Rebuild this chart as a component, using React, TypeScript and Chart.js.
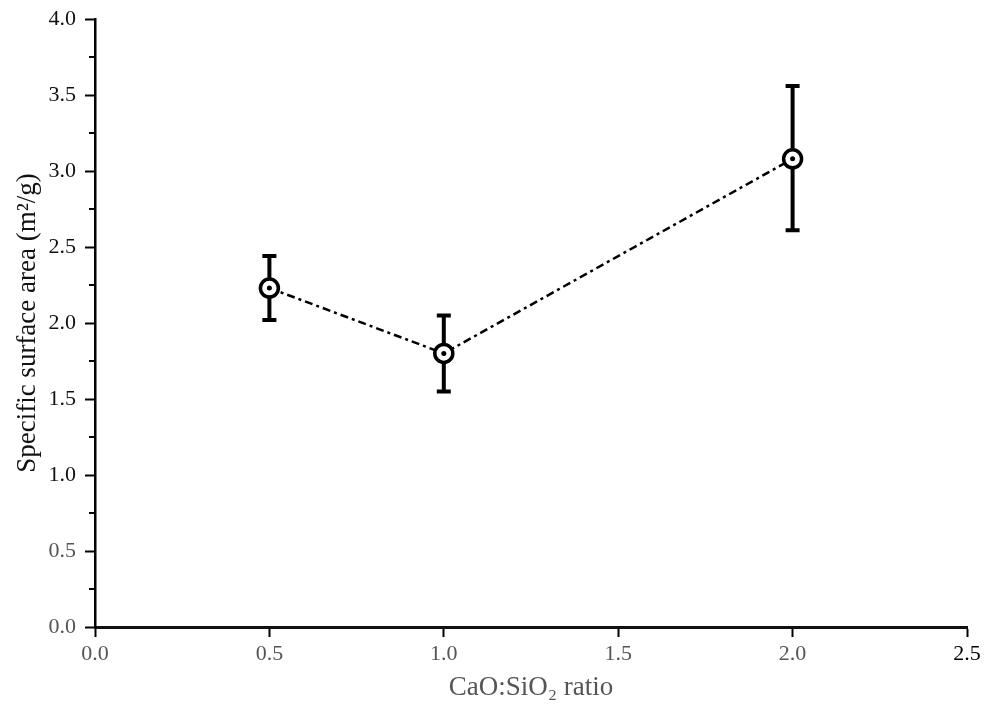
import React, { useEffect, useRef } from 'react';
import { Chart, registerables } from 'chart.js';
Chart.register(...registerables);

const xValues = [0.5, 1.0, 2.0];
const yValues = [2.23, 1.8, 3.08];
const yErrLow = [2.02, 1.55, 2.61];
const yErrHigh = [2.44, 2.05, 3.56];
const xTicks = [0, 0.5, 1.0, 1.5, 2.0, 2.5];
const yTicks = [0, 0.5, 1.0, 1.5, 2.0, 2.5, 3.0, 3.5, 4.0];
const yMinorTicks = [0.25, 0.75, 1.25, 1.75, 2.25, 2.75, 3.25, 3.75];
const xTitle = 'CaO:SiO\u2082 ratio';
const yTitle = 'Specific surface area (m\u00b2/g)';

const FONT = "'Liberation Serif', 'Times New Roman', serif";

const errorBarPlugin = {
  id: 'errorBars',
  beforeDatasetsDraw(chart: any) {
    const { ctx, scales } = chart;
    const x = scales.x, y = scales.y;
    ctx.save();
    ctx.strokeStyle = '#000';
    ctx.lineWidth = 4;
    ctx.lineCap = 'butt';
    xValues.forEach((xv, i) => {
      const px = x.getPixelForValue(xv);
      const top = y.getPixelForValue(yErrHigh[i]);
      const bot = y.getPixelForValue(yErrLow[i]);
      ctx.beginPath();
      ctx.moveTo(px, top);
      ctx.lineTo(px, bot);
      ctx.moveTo(px - 7, top);
      ctx.lineTo(px + 7, top);
      ctx.moveTo(px - 7, bot);
      ctx.lineTo(px + 7, bot);
      ctx.stroke();
    });
    ctx.restore();
  },
  afterDraw(chart: any) {
    const { ctx, scales, chartArea } = chart;
    const y = scales.y;
    ctx.save();
    ctx.strokeStyle = '#000';
    ctx.lineWidth = 2;
    yMinorTicks.forEach((v) => {
      const py = y.getPixelForValue(v);
      ctx.beginPath();
      ctx.moveTo(chartArea.left - 6, py);
      ctx.lineTo(chartArea.left, py);
      ctx.stroke();
    });
    ctx.restore();
  },
};

export default function App() {
  const ref = useRef<HTMLCanvasElement | null>(null);
  useEffect(() => {
    if (!ref.current) return;
    const chart = new Chart(ref.current, {
      type: 'scatter',
      data: {
        datasets: [
          {
            label: 'centre',
            data: xValues.map((x, i) => ({ x, y: yValues[i] })),
            showLine: false,
            pointRadius: 2.5,
            pointBackgroundColor: '#000',
            pointBorderWidth: 0,
            order: 0,
          },
          {
            label: 'SSA',
            data: xValues.map((x, i) => ({ x, y: yValues[i] })),
            showLine: true,
            borderColor: '#000',
            borderWidth: 2.5,
            borderDash: [8, 4, 3, 4],
            pointRadius: 9,
            pointBorderWidth: 3.5,
            pointBorderColor: '#000',
            pointBackgroundColor: '#fff',
            order: 1,
          },
        ],
      },
      options: {
        responsive: false,
        animation: false,
        events: [],
        layout: { padding: { left: 0, top: 19, right: 20, bottom: 0 } },
        plugins: { legend: { display: false }, tooltip: { enabled: false } },
        scales: {
          x: {
            type: 'linear',
            min: 0,
            max: 2.5,
            afterBuildTicks: (s: any) => { s.ticks = xTicks.map((v) => ({ value: v })); },
            afterFit: (s: any) => { s.height = 86; s.paddingLeft = 0; s.paddingRight = 0; },
            grid: { display: true, drawOnChartArea: false, drawTicks: true, tickLength: 10, tickWidth: 2, tickColor: '#000' },
            border: { display: true, color: '#111', width: 3 },
            ticks: {
              color: (c: any) => (c.tick && c.tick.value >= 2.5 ? '#000' : '#555'),
              font: { family: FONT, size: 22 },
              padding: 4,
              maxRotation: 0,
              callback: (v: any) => Number(v).toFixed(1),
            },
            title: {
              display: true,
              text: xTitle,
              color: '#555',
              font: { family: FONT, size: 27 },
              padding: { top: 0, bottom: 9 },
            },
          },
          y: {
            type: 'linear',
            min: 0,
            max: 4,
            afterBuildTicks: (s: any) => { s.ticks = yTicks.map((v) => ({ value: v })); },
            afterFit: (s: any) => { s.width = 95; s.paddingTop = 0; s.paddingBottom = 0; },
            grid: { display: true, drawOnChartArea: false, drawTicks: true, tickLength: 10, tickWidth: 2, tickColor: '#000' },
            border: { display: true, color: '#000', width: 2.5 },
            ticks: {
              color: (c: any) => (c.tick && c.tick.value <= 0.5 ? '#555' : '#111'),
              font: { family: FONT, size: 22 },
              padding: 9,
              callback: (v: any) => Number(v).toFixed(1),
            },
            title: {
              display: true,
              text: yTitle,
              color: '#111',
              font: { family: FONT, size: 27 },
              padding: { top: 12, bottom: 0 },
            },
          },
        },
      },
      plugins: [errorBarPlugin],
    });
    return () => chart.destroy();
  }, []);
  return (
    <div style={{ position: 'fixed', left: 0, top: 0, width: 987, height: 713, background: '#fff' }}>
      <canvas ref={ref} width={987} height={713} style={{ display: 'block' }} />
    </div>
  );
}
